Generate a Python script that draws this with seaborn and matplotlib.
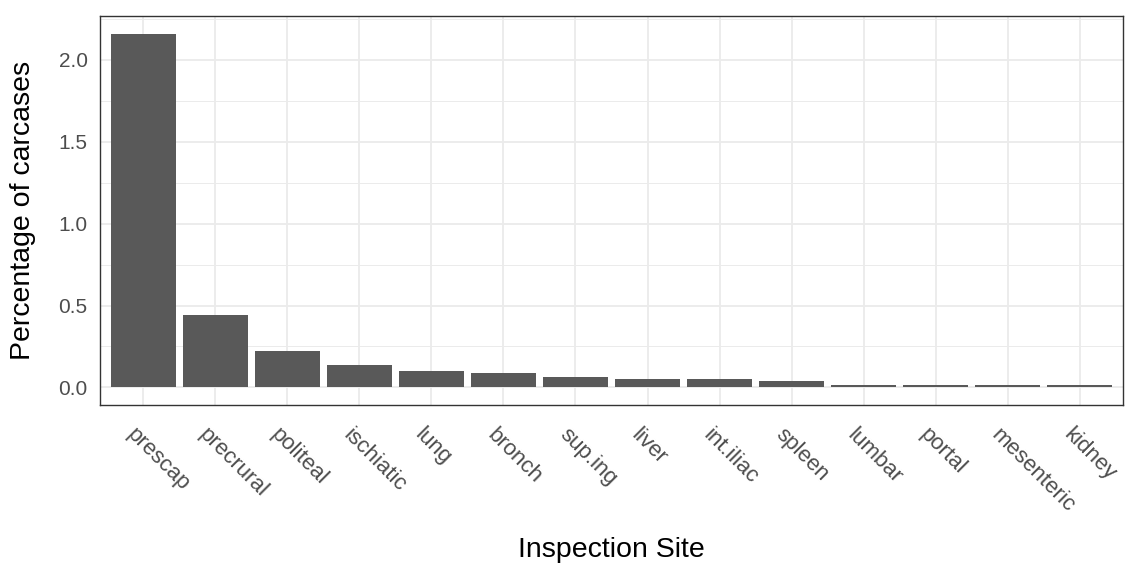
import numpy as np
import pandas as pd
import matplotlib
matplotlib.use("Agg")
import matplotlib.pyplot as plt
import matplotlib.transforms as mtransforms
import seaborn as sns
from matplotlib.ticker import MultipleLocator

# Dados
sites = ['prescap', 'precrural', 'politeal', 'ischiatic', 'lung', 'bronch', 'sup.ing',
         'liver', 'int.iliac', 'spleen', 'lumbar', 'portal', 'mesenteric', 'kidney']
pct_carcases = [2.16, 0.44, 0.22, 0.135, 0.10, 0.09, 0.065,
                0.053, 0.053, 0.04, 0.015, 0.015, 0.015, 0.015]

df = pd.DataFrame({'site': sites, 'pct': pct_carcases})

sns.set_theme(style="whitegrid")
plt.rcParams['font.family'] = ['Liberation Sans', 'DejaVu Sans']

fig = plt.figure(figsize=(11.25, 5.65), dpi=100)
ax = fig.add_axes([0.0889, 0.283, 0.9093, 0.6887])

sns.barplot(data=df, x='site', y='pct', color='#595959', saturation=1,
            width=0.9, ax=ax, zorder=3)
for p in ax.patches:
    p.set_edgecolor('none')

# escalas estilo ggplot (expansão)
n = len(sites)
ax.set_xlim(-0.6, n - 1 + 0.6)
ymax = max(pct_carcases)
ax.set_ylim(-0.05 * ymax, ymax * 1.05)
ax.yaxis.set_major_locator(MultipleLocator(0.5))
ax.yaxis.set_minor_locator(MultipleLocator(0.25))
ax.yaxis.set_major_formatter(matplotlib.ticker.FormatStrFormatter('%.1f'))

ax.set_facecolor('white')
ax.grid(True, which='major', color='#EBEBEB', lw=1.3, zorder=0)
ax.grid(True, which='minor', axis='y', color='#EBEBEB', lw=0.7, zorder=0)
ax.set_axisbelow(True)
for s in ax.spines.values():
    s.set_color('#333333')
    s.set_linewidth(1.0)

ax.tick_params(axis='both', which='major', length=6, width=1, color='#333333',
               labelcolor='#4D4D4D', pad=3)
ax.tick_params(axis='y', labelsize=15)
ax.tick_params(axis='x', labelsize=16)
ax.tick_params(axis='both', which='minor', length=0)

# rótulos girados -45 graus, deslocados um pouco para baixo/esquerda
offset = mtransforms.ScaledTranslation(-4 / 72, -5 / 72, fig.dpi_scale_trans)
for lbl in ax.get_xticklabels():
    lbl.set_rotation(-45)
    lbl.set_ha('left')
    lbl.set_va('top')
    lbl.set_rotation_mode('anchor')
    lbl.set_transform(lbl.get_transform() + offset)

ax.set_xlabel('Inspection Site', fontsize=20.5, color='black', labelpad=15)
ax.set_ylabel('Percentage of carcases', fontsize=20.5, color='black', labelpad=16)

fig.savefig('out.png', dpi=100)
